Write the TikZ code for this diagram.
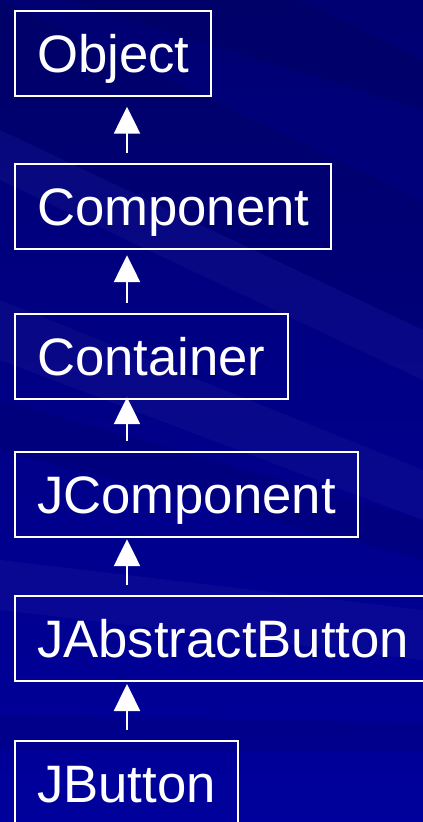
\documentclass[tikz,border=0pt]{standalone}
\usepackage{fontspec}
\setmainfont{Liberation Sans}
\usetikzlibrary{arrows.meta}
\definecolor{bgtop}{HTML}{000072}
\definecolor{bgbot}{HTML}{00009C}
\begin{document}
\begin{tikzpicture}[x=1pt,y=-1pt,
  cls/.style={draw=white, line width=2pt, anchor=west, minimum height=85pt,
    inner xsep=22pt, inner ysep=0pt, text height=37.7pt, text depth=0pt,
    text=white, font=\fontsize{52.7}{60}\selectfont},
  inh/.style={draw=white, line width=2.4pt, shorten <=10pt,
    -{Triangle[width=26pt,length=27pt]}},
  lightband/.style={fill=white, opacity=0.03},
  darkband/.style={fill=black, opacity=0.08}]
\useasboundingbox (0,0) rectangle (423,822);
\clip (0,0) rectangle (423,822);
% background
\shade[top color=bgtop, bottom color=bgbot] (0,0) rectangle (423,822);
\fill[darkband] (0,0) -- (300,0) -- (423,60) -- (423,110) -- (0,-20) -- cycle;
\fill[darkband] (0,0) -- (0,130) -- (423,330) -- (423,200) -- cycle;
\fill[lightband] (0,130) -- (423,330) -- (423,380) -- (0,180) -- cycle;
\fill[lightband] (0,300) -- (423,470) -- (423,520) -- (0,360) -- cycle;
\fill[darkband] (0,400) -- (423,520) -- (423,560) -- (0,450) -- cycle;
\fill[lightband] (0,560) -- (423,610) -- (423,660) -- (0,610) -- cycle;
\fill[darkband] (0,715) -- (423,722) -- (423,752) -- (0,750) -- cycle;
% classes
\coordinate (ax) at (127,0);
\node[cls] (obj)  at (14,53.2)  {Object};
\node[cls] (comp) at (14,206.7) {Component};
\node[cls] (cont) at (14,356.7) {Container};
\node[cls] (jcmp) at (14,494.7) {JComponent};
\node[cls] (jab)  at (14,638.5) {JAbstractButton};
\node[cls] (jbtn) at (14,783.2) {JButton};
% inheritance arrows
\draw[inh, shorten >=10pt] (comp.north -| ax) -- (obj.south -| ax);
\draw[inh, shorten >=5pt]  (cont.north -| ax) -- (comp.south -| ax);
\draw[inh, shorten >=-3pt] (jcmp.north -| ax) -- (cont.south -| ax);
\draw[inh, shorten >=1pt]  (jab.north -| ax)  -- (jcmp.south -| ax);
\draw[inh, shorten >=2pt]  (jbtn.north -| ax) -- (jab.south -| ax);
\end{tikzpicture}
\end{document}
